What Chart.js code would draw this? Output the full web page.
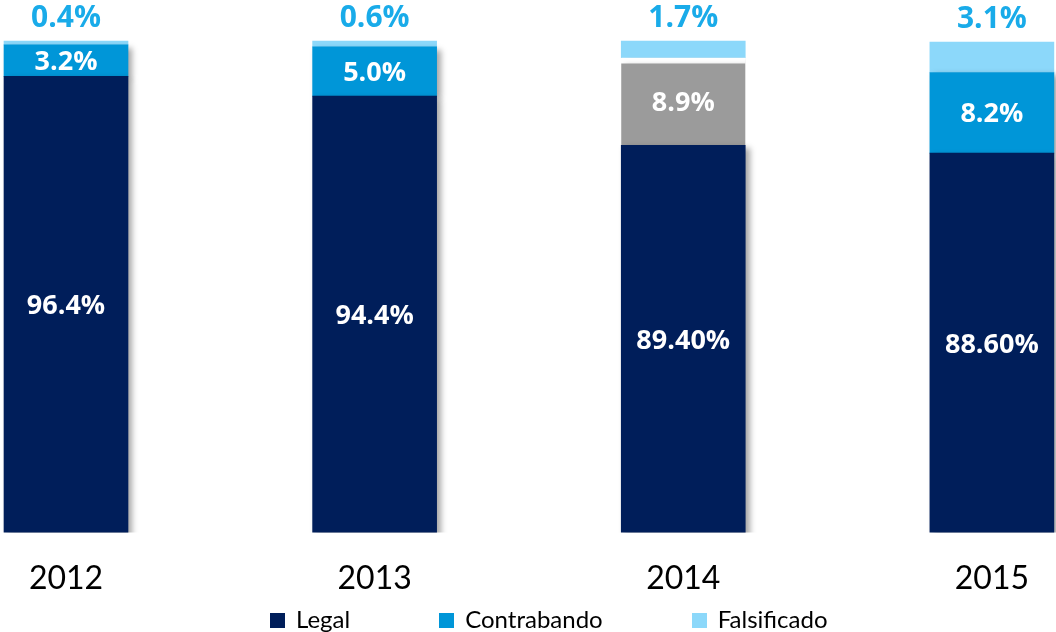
<!DOCTYPE html>
<html>
<head>
<meta charset="utf-8">
<script src="https://cdn.jsdelivr.net/npm/chart.js@4.4.1/dist/chart.umd.min.js"></script>
<style>
  html, body { margin: 0; padding: 0; background: #fff; }
  #wrap { width: 1056px; height: 606px; }
  #leyenda { display: flex; height: 26px; padding-left: 270px; font-family: Lato, sans-serif; font-size: 24px; line-height: 26px; color: #000; }
  #leyenda span.item { display: flex; align-items: center; margin-right: 89px; }
  #leyenda span.caja { width: 15px; height: 15px; margin-right: 11px; margin-top: 3px; }
</style>
</head>
<body>
<div id="wrap"><canvas id="grafica"></canvas></div>
<div id="leyenda"></div>
<script>
// Datos
const anios = ['2012', '2013', '2014', '2015'];
const legal = [96.4, 94.4, 89.4, 88.6];
const contrabando = [3.2, 5.0, 8.9, 8.2];
const falsificado = [0.4, 0.6, 1.7, 3.1];
const etiquetasLegal = ['96.4%', '94.4%', '89.40%', '88.60%'];
const etiquetasContrabando = ['3.2%', '5.0%', '8.9%', '8.2%'];
const etiquetasFalsificado = ['0.4%', '0.6%', '1.7%', '3.1%'];

const azulOscuro = '#001E5A';
const azulMedio = '#0096D8';
const azulClaro = '#8CD8FA';
const gris = '#9B9B9B';
const coloresLeyenda = [azulOscuro, azulMedio, azulClaro];

// Sombra suave a la derecha de las barras
const sombras = {
    id: 'sombras',
    beforeDatasetDraw(chart, args) {
        const ctx = chart.ctx;
        ctx.save();
        if (args.index < 2) {
            ctx.shadowColor = 'rgba(0,0,0,0.35)';
            ctx.shadowBlur = 6;
            ctx.shadowOffsetX = 4;
            ctx.shadowOffsetY = 3;
        }
    },
    afterDatasetDraw(chart) {
        chart.ctx.restore();
    }
};

// Etiquetas de valores
const etiquetas = {
    id: 'etiquetas',
    afterDatasetsDraw(chart) {
        const ctx = chart.ctx;
        ctx.save();
        ctx.textAlign = 'center';
        ctx.textBaseline = 'middle';
        const textos = [etiquetasLegal, etiquetasContrabando];
        textos.forEach((lista, i) => {
            chart.getDatasetMeta(i).data.forEach((bar, j) => {
                const base = Math.min(bar.base, chart.chartArea.bottom);
                ctx.fillStyle = '#ffffff';
                ctx.font = 'bold 27px "Open Sans", sans-serif';
                ctx.fillText(lista[j], bar.x, (bar.y + base) / 2 + 2);
            });
        });
        chart.getDatasetMeta(2).data.forEach((bar, j) => {
            ctx.fillStyle = '#19ABE9';
            ctx.font = 'bold 30px "Open Sans", sans-serif';
            ctx.fillText(etiquetasFalsificado[j], bar.x, bar.y - 23);
        });
        ctx.restore();
    }
};

const grafica = new Chart(document.getElementById('grafica'), {
    type: 'bar',
    data: {
        labels: anios,
        datasets: [
            {
                label: 'Legal',
                data: legal,
                backgroundColor: azulOscuro
            },
            {
                label: 'Contrabando',
                data: contrabando,
                backgroundColor: anios.map(a => a === '2014' ? gris : azulMedio),
                borderColor: '#ffffff',
                borderWidth: anios.map(a => a === '2014' ? { top: 6 } : 0),
                borderSkipped: false
            },
            {
                label: 'Falsificado',
                data: falsificado,
                backgroundColor: azulClaro
            }
        ]
    },
    options: {
        responsive: true,
        maintainAspectRatio: false,
        animation: false,
        layout: { padding: { top: 41, left: 66, right: 64, bottom: -19 } },
        datasets: { bar: { barThickness: 124, clip: { left: false, right: false, top: false, bottom: 0 } } },
        plugins: {
            legend: { display: false },
            tooltip: { enabled: false }
        },
        scales: {
            x: {
                stacked: true,
                offset: false,
                grid: { display: false, drawTicks: false },
                border: { display: false },
                ticks: { color: '#000', font: { family: 'Lato', size: 32 }, padding: 27 }
            },
            y: {
                stacked: true,
                display: false,
                min: 50,
                max: 100
            }
        }
    },
    plugins: [sombras, etiquetas]
});

// Leyenda en HTML a partir de los datasets
const leyenda = document.getElementById('leyenda');
grafica.data.datasets.forEach((d, i) => {
    const item = document.createElement('span');
    item.className = 'item';
    item.innerHTML = `<span class="caja" style="background:${coloresLeyenda[i]}"></span>${d.label}`;
    leyenda.appendChild(item);
});
</script>
</body>
</html>
